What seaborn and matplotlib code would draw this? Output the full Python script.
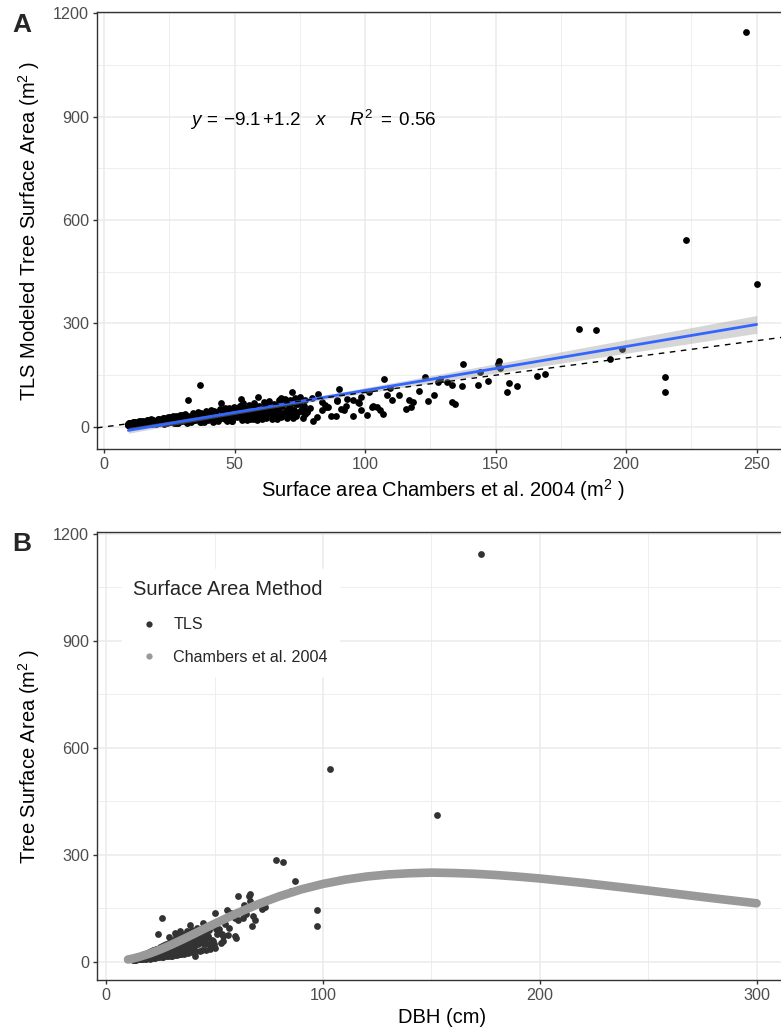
import numpy as np
import pandas as pd
import matplotlib
matplotlib.use("Agg")
import matplotlib.pyplot as plt
import seaborn as sns
from matplotlib.lines import Line2D
from matplotlib.ticker import MultipleLocator

# ---------------- data ----------------
dbh_cm = [12.3, 12.3, 12.5, 12.6, 12.8, 12.8, 13.2, 13.0, 13.0, 13.3, 13.4, 13.6, 13.8, 13.9, 14.2,
          14.0, 14.0, 14.5, 15.0, 15.0, 15.0, 15.5, 16.0, 16.0, 16.5, 17.0, 17.0, 17.5, 18.0, 18.0,
          18.0, 18.5, 19.0, 19.0, 19.5, 20.0, 20.0, 20.0, 20.5, 21.0, 21.0, 21.5, 22.0, 22.0, 22.0,
          22.5, 23.0, 23.0, 23.5, 24.0, 24.0, 24.0, 24.5, 25.0, 25.0, 25.5, 25.8, 26.0, 26.0, 26.0,
          26.5, 27.0, 27.0, 27.5, 28.0, 28.0, 28.0, 28.5, 28.9, 29.0, 29.0, 29.5, 30.0, 30.0, 30.0,
          30.5, 31.0, 31.0, 31.5, 31.6, 32.0, 32.0, 32.0, 32.5, 33.0, 33.0, 33.0, 33.4, 33.5, 33.9,
          34.0, 34.0, 34.5, 35.0, 35.0, 35.0, 35.5, 36.0, 36.0, 36.5, 37.0, 37.0, 37.0, 37.5, 38.0,
          38.0, 38.2, 38.4, 38.5, 39.0, 39.0, 39.5, 40.0, 40.0, 40.1, 41.1, 41.8, 42.3, 43.1, 44.0,
          44.1, 44.4, 45.3, 46.2, 47.3, 47.3, 48.3, 48.7, 49.7, 50.2, 50.5, 51.0, 52.2, 53.0, 53.5,
          53.7, 54.0, 54.8, 55.7, 56.1, 56.8, 57.4, 57.6, 58.6, 59.2, 59.2, 59.7, 60.9, 60.7, 63.1,
          63.4, 64.5, 66.0, 66.1, 66.3, 67.6, 67.3, 68.8, 72.0, 73.4, 78.2, 81.6, 85.0, 87.1, 97.4,
          97.4, 103.2, 152.5, 173.0]

chambers_sa = [9.3, 9.3, 9.4, 9.6, 9.9, 9.9, 10.5, 10.2, 10.2, 10.6, 10.8, 11.1, 11.4, 11.5, 12.0,
               11.7, 11.7, 12.5, 13.3, 13.3, 13.3, 14.2, 15.1, 15.1, 16.0, 16.9, 16.9, 17.9, 18.9, 18.9,
               18.9, 19.9, 20.9, 20.9, 21.9, 22.9, 22.9, 22.9, 24.0, 25.1, 25.1, 26.2, 27.4, 27.4, 27.4,
               28.5, 29.7, 29.7, 30.9, 32.1, 32.1, 32.1, 33.3, 34.5, 34.5, 35.8, 36.6, 37.1, 37.1, 37.1,
               38.4, 39.7, 39.7, 41.0, 42.3, 42.3, 42.3, 43.6, 44.8, 45.0, 45.0, 46.3, 47.7, 47.7, 47.7,
               49.1, 50.5, 50.5, 51.9, 52.3, 53.3, 53.3, 53.3, 54.7, 56.1, 56.1, 56.1, 57.2, 57.5, 58.8,
               59.0, 59.0, 60.4, 61.9, 61.9, 61.9, 63.3, 64.8, 64.8, 66.3, 67.8, 67.8, 67.8, 69.2, 70.7,
               70.7, 71.2, 71.9, 72.2, 73.7, 73.7, 75.2, 76.7, 76.7, 76.9, 79.9, 82.1, 83.6, 85.9, 88.7,
               89.1, 90.1, 92.6, 95.4, 98.6, 98.6, 101.6, 102.8, 105.7, 107.2, 108.2, 109.5, 113.0, 115.6, 116.9,
               117.4, 118.4, 120.6, 123.1, 124.2, 126.3, 127.9, 128.6, 131.2, 133.1, 133.1, 134.4, 137.6, 137.1, 143.3,
               144.0, 147.1, 151.0, 151.3, 151.8, 155.2, 154.5, 158.2, 166.0, 169.1, 182.0, 188.5, 194.0, 198.5, 215.0,
               215.0, 223.0, 250.0, 246.0]

tls_sa = [7, 9, 8, 6, 10, 7, 8, 11, 7, 12, 9, 9, 13, 7, 10,
          8, 14, 11, 12, 9, 16, 13, 10, 17, 14, 12, 19, 15, 11, 20,
          16, 14, 18, 24, 13, 17, 26, 10, 21, 15, 28, 19, 22, 31, 12,
          18, 25, 35, 16, 78, 27, 21, 30, 19, 36, 28, 122, 24, 40, 14,
          33, 21, 44, 29, 36, 18, 47, 25, 70, 32, 50, 22, 38, 28, 55,
          17, 42, 31, 60, 80, 69, 26, 45, 35, 48, 22, 62, 23, 39, 86,
          30, 52, 44, 25, 58, 70, 40, 33, 55, 47, 28, 62, 85, 42, 36,
          57, 78, 102, 50, 31, 66, 45, 39, 60, 37, 17, 95, 49, 59, 33,
          76, 109, 61, 78, 88, 49, 102, 57, 49, 138, 93, 112, 93, 52, 78,
          59, 73, 105, 144, 76, 94, 131, 138, 129, 122, 73, 66, 183, 118, 122,
          160, 133, 183, 191, 170, 127, 101, 118, 149, 154, 284, 280, 198, 227, 146,
          101, 541, 413, 1145]

# many more small trees form the dense cluster
dbh_small = [12.3, 12.4, 12.5, 12.6, 12.7, 12.8,
             12.7, 12.9, 13.1, 13.3, 13.5, 13.7,
             13.2, 13.5, 13.8, 14.1, 14.4, 14.7,
             14.2, 14.5, 14.8, 15.1, 15.4, 15.7,
             15.2, 15.5, 15.8, 16.1, 16.4, 16.7,
             16.2, 16.5, 16.8, 17.1, 17.4, 17.7,
             17.2, 17.5, 17.8, 18.1, 18.4, 18.7,
             18.2, 18.5, 18.8, 19.1, 19.4, 19.7,
             19.2, 19.5, 19.8, 20.1, 20.4, 20.7,
             20.2, 20.5, 20.8, 21.1, 21.4, 21.7,
             21.2, 21.5, 21.8, 22.1, 22.4, 22.7,
             22.2, 22.5, 22.8, 23.1, 23.4, 23.7,
             23.2, 23.5, 23.8, 24.1, 24.4, 24.7,
             24.2, 24.5, 24.8, 25.1, 25.4, 25.7,
             25.2, 25.5, 25.8, 26.1, 26.4, 26.7,
             26.2, 26.5, 26.8, 27.1, 27.4, 27.7,
             27.2, 27.5, 27.8, 28.1, 28.4, 28.7,
             28.2, 28.5, 28.8, 29.1, 29.4, 29.7,
             29.2, 29.5, 29.8, 30.1, 30.4, 30.7,
             30.2, 30.5, 30.8, 31.1, 31.4, 31.7,
             31.2, 31.5, 31.8, 32.1, 32.4, 32.7,
             32.2, 32.5, 32.8, 33.1, 33.4, 33.7,
             33.2, 33.5, 33.8, 34.1, 34.4, 34.7,
             34.2, 34.5, 34.8, 35.1, 35.4, 35.7,
             35.2, 35.5, 35.8, 36.1, 36.4, 36.7,
             36.2, 36.5, 36.8, 37.1, 37.4, 37.7,
             37.2, 37.5, 37.8, 38.1, 38.4, 38.7,
             38.2, 38.5, 38.8, 39.1, 39.4, 39.7,
             39.2, 39.5, 39.8, 40.1, 40.4, 40.7,
             40.4, 41.0, 41.6, 42.2, 42.8,
             42.6, 43.4, 44.2, 45.0,
             44.6, 45.4, 46.2, 47.0,
             46.8, 48.0, 49.2,
             48.8, 50.0, 51.2]

chambers_small = [9.3, 9.3, 9.4, 9.6, 9.7, 9.9,
                  9.8, 10.1, 10.4, 10.6, 10.9, 11.2,
                  10.4, 10.9, 11.4, 11.9, 12.3, 12.8,
                  11.9, 12.5, 13.0, 13.5, 14.0, 14.5,
                  13.7, 14.2, 14.7, 15.3, 15.8, 16.4,
                  15.4, 16.0, 16.5, 17.1, 17.7, 18.2,
                  17.3, 17.9, 18.5, 19.1, 19.7, 20.3,
                  19.3, 19.9, 20.5, 21.1, 21.7, 22.3,
                  21.2, 21.8, 22.5, 23.1, 23.7, 24.4,
                  23.3, 24.0, 24.6, 25.3, 26.0, 26.7,
                  25.6, 26.3, 26.9, 27.6, 28.3, 29.0,
                  27.8, 28.5, 29.2, 29.9, 30.7, 31.4,
                  30.2, 30.9, 31.6, 32.3, 33.1, 33.8,
                  32.5, 33.3, 34.0, 34.8, 35.5, 36.3,
                  35.0, 35.8, 36.6, 37.4, 38.1, 38.9,
                  37.6, 38.4, 39.2, 40.0, 40.7, 41.5,
                  40.1, 41.0, 41.8, 42.6, 43.4, 44.2,
                  42.8, 43.7, 44.5, 45.3, 46.1, 46.9,
                  45.5, 46.3, 47.1, 48.0, 48.8, 49.7,
                  48.3, 49.1, 49.9, 50.8, 51.6, 52.5,
                  51.1, 51.9, 52.7, 53.6, 54.4, 55.3,
                  53.8, 54.6, 55.5, 56.4, 57.3, 58.1,
                  56.7, 57.6, 58.4, 59.3, 60.2, 61.0,
                  59.6, 60.5, 61.3, 62.2, 63.1, 63.9,
                  62.4, 63.3, 64.2, 65.1, 66.0, 66.9,
                  65.4, 66.3, 67.2, 68.1, 69.0, 69.9,
                  68.3, 69.2, 70.1, 71.0, 71.9, 72.8,
                  71.3, 72.2, 73.1, 74.0, 74.9, 75.8,
                  74.3, 75.2, 76.1, 77.0, 77.9, 78.8,
                  77.9, 79.7, 81.5, 83.3, 85.1,
                  84.5, 87.0, 89.4, 91.8,
                  90.6, 93.0, 95.4, 97.8,
                  97.2, 100.8, 104.4,
                  103.2, 106.7, 110.2]

tls_small = [8, 6, 10, 7, 11, 9,
             9, 6, 12, 8, 7, 11,
             10, 13, 6, 12, 8, 9,
             11, 7, 15, 8, 13, 10,
             13, 17, 7, 15, 9, 11,
             14, 8, 19, 10, 17, 12,
             16, 22, 8, 18, 11, 14,
             17, 9, 24, 12, 21, 15,
             20, 13, 27, 9, 23, 16,
             21, 10, 29, 14, 25, 17,
             23, 32, 11, 27, 15, 20,
             25, 11, 34, 17, 30, 21,
             27, 37, 12, 33, 18, 23,
             30, 13, 40, 19, 35, 24,
             32, 43, 14, 37, 21, 26,
             34, 15, 46, 22, 41, 28,
             36, 49, 15, 43, 24, 30,
             38, 16, 52, 25, 46, 32,
             41, 55, 17, 48, 27, 34,
             43, 18, 58, 28, 51, 36,
             46, 61, 19, 54, 30, 37,
             48, 20, 65, 31, 57, 40,
             50, 68, 21, 60, 33, 42,
             53, 22, 71, 35, 63, 44,
             56, 74, 23, 66, 36, 46,
             58, 24, 78, 38, 69, 48,
             61, 81, 25, 72, 40, 50,
             63, 26, 84, 41, 75, 52,
             66, 88, 27, 78, 43, 55,
             46, 84, 29, 71, 59,
             63, 31, 77, 50,
             53, 82, 33, 68,
             72, 36, 57,
             60, 38, 77]

# Chambers et al. 2004 surface area curve (read along the grey band)
curve_dbh = [10, 12, 15, 20, 25, 30, 35, 40, 45, 50, 60, 70, 80, 90, 100, 110, 120, 130,
             140, 150, 160, 170, 180, 190, 200, 220, 240, 260, 280, 300]
curve_sa = [6.2, 8.7, 13.3, 22.9, 34.5, 47.7, 61.9, 76.7, 91.8, 106.7, 135.3, 161.3, 183.9,
            203.0, 218.3, 230.1, 238.9, 244.8, 248.2, 250.0, 248.9, 246.7, 243.2, 238.7,
            233.5, 221.1, 207.2, 192.6, 178.0, 164.0]

y_ticks = [0, 300, 600, 900, 1200]
xA_ticks = [0, 50, 100, 150, 200, 250]
xB_ticks = [0, 100, 200, 300]
legend_labels = ["TLS", "Chambers et al. 2004"]

trees = pd.DataFrame({"dbh": dbh_cm + dbh_small,
                      "chambers": chambers_sa + chambers_small,
                      "tls": tls_sa + tls_small})
curve = pd.DataFrame({"dbh": curve_dbh, "sa": curve_sa})

# ---------------- style ----------------
sns.set_theme(style="white")
plt.rcParams["font.family"] = ["Liberation Sans", "DejaVu Sans"]
plt.rcParams["mathtext.fontset"] = "custom"
plt.rcParams["mathtext.rm"] = "Liberation Sans"
plt.rcParams["mathtext.it"] = "Liberation Sans:italic"
plt.rcParams["mathtext.bf"] = "Liberation Sans:bold"

TICK_FS = 11.6
TITLE_FS = 14.5
GRID = "#EBEBEB"
BORDER = "#333333"

fig = plt.figure(figsize=(7.81, 10.35), dpi=100)
axA = fig.add_axes([97 / 781, 1 - 449 / 1035, 691 / 781, 437 / 1035])
axB = fig.add_axes([97 / 781, 1 - 980 / 1035, 691 / 781, 448 / 1035])


def style_axes(ax, xticks, xminor):
    ax.set_xticks(xticks)
    ax.set_yticks(y_ticks)
    ax.xaxis.set_minor_locator(MultipleLocator(xminor))
    ax.yaxis.set_minor_locator(MultipleLocator(150))
    ax.grid(which="major", color=GRID, lw=1.1, zorder=0)
    ax.grid(which="minor", color=GRID, lw=0.6, zorder=0)
    ax.set_axisbelow(True)
    for sp in ax.spines.values():
        sp.set_visible(True)
        sp.set_color(BORDER)
        sp.set_linewidth(1.0)
    ax.tick_params(which="major", direction="out", length=3.2, width=1.0, color=BORDER,
                   labelcolor="#4D4D4D", labelsize=TICK_FS, pad=2.5,
                   bottom=True, left=True)
    ax.tick_params(which="minor", length=0)


# ---------------- panel A ----------------
sns.scatterplot(data=trees, x="chambers", y="tls", color="black", s=24, linewidth=0,
                ax=axA, zorder=3)

# analytic 95% confidence ribbon of the linear fit (as ggplot's geom_smooth)
xv = trees["chambers"].to_numpy(float)
yv = trees["tls"].to_numpy(float)
n = len(xv)
b1, b0 = np.polyfit(xv, yv, 1)
resid = yv - (b0 + b1 * xv)
s = np.sqrt(np.sum(resid ** 2) / (n - 2))
sxx = np.sum((xv - xv.mean()) ** 2)
gx = np.linspace(xv.min(), xv.max(), 200)
fit = b0 + b1 * gx
se = s * np.sqrt(1.0 / n + (gx - xv.mean()) ** 2 / sxx)
axA.fill_between(gx, fit - 1.967 * se, fit + 1.967 * se, color="#999999", alpha=0.4,
                 lw=0, zorder=3.5)
sns.regplot(data=trees, x="chambers", y="tls", scatter=False, ci=None, color="#3366FF",
            line_kws={"lw": 2.0, "zorder": 4}, ax=axA)
axA.axline((0, 0), slope=1, ls=(0, (4, 4)), color="black", lw=1.0, zorder=5)
axA.set_xlim(-2.7, 262)
axA.set_ylim(-64, 1203)
style_axes(axA, xA_ticks, 25)
axA.set_xlabel(r"Surface area Chambers et al. 2004 (m$^2$ )", fontsize=TITLE_FS, color="black",
               labelpad=4)
axA.set_ylabel(r"TLS Modeled Tree Surface Area (m$^2$ )", fontsize=TITLE_FS, color="black",
               labelpad=8)
axA.text(32.9, 890, r"$y\,=\,{-9.1}\,{+}1.2\quad x\quad\;\;R^2\;=\;0.56$", fontsize=13.6,
         ha="left", va="center", color="black")

# ---------------- panel B ----------------
sns.scatterplot(data=trees, x="dbh", y="tls", color="#333333", s=24, linewidth=0,
                ax=axB, zorder=3)
sns.lineplot(data=curve, x="dbh", y="sa", color="#999999", lw=6.2, estimator=None,
             sort=True, ax=axB, zorder=4, solid_capstyle="round", solid_joinstyle="round")
axB.set_xlim(-4.3, 314.5)
axB.set_ylim(-51.3, 1205.6)
style_axes(axB, xB_ticks, 50)
axB.set_xlabel("DBH (cm)", fontsize=TITLE_FS, color="black", labelpad=4)
axB.set_ylabel(r"Tree Surface Area (m$^2$ )", fontsize=TITLE_FS, color="black", labelpad=8)

handles = [Line2D([], [], marker="o", ls="", color="#333333", markersize=4.5, markeredgewidth=0),
           Line2D([], [], marker="o", ls="", color="#999999", markersize=4.5, markeredgewidth=0)]
leg = axB.legend(handles, legend_labels, title="Surface Area Method", loc="upper left",
                 bbox_to_anchor=(0.024, 0.935), frameon=True, fancybox=False,
                 edgecolor="white", facecolor="white", framealpha=1, fontsize=TICK_FS,
                 title_fontsize=TITLE_FS, alignment="left", handlelength=2.0,
                 handletextpad=0.5, borderpad=0.7, labelspacing=1.1)
leg.set_zorder(10)

# panel tags
fig.text(12 / 781, 1 - 25 / 1035, "A", fontsize=19, fontweight="bold", ha="left", va="center")
fig.text(12 / 781, 1 - 544 / 1035, "B", fontsize=19, fontweight="bold", ha="left", va="center")

fig.savefig("out.png", dpi=100)
